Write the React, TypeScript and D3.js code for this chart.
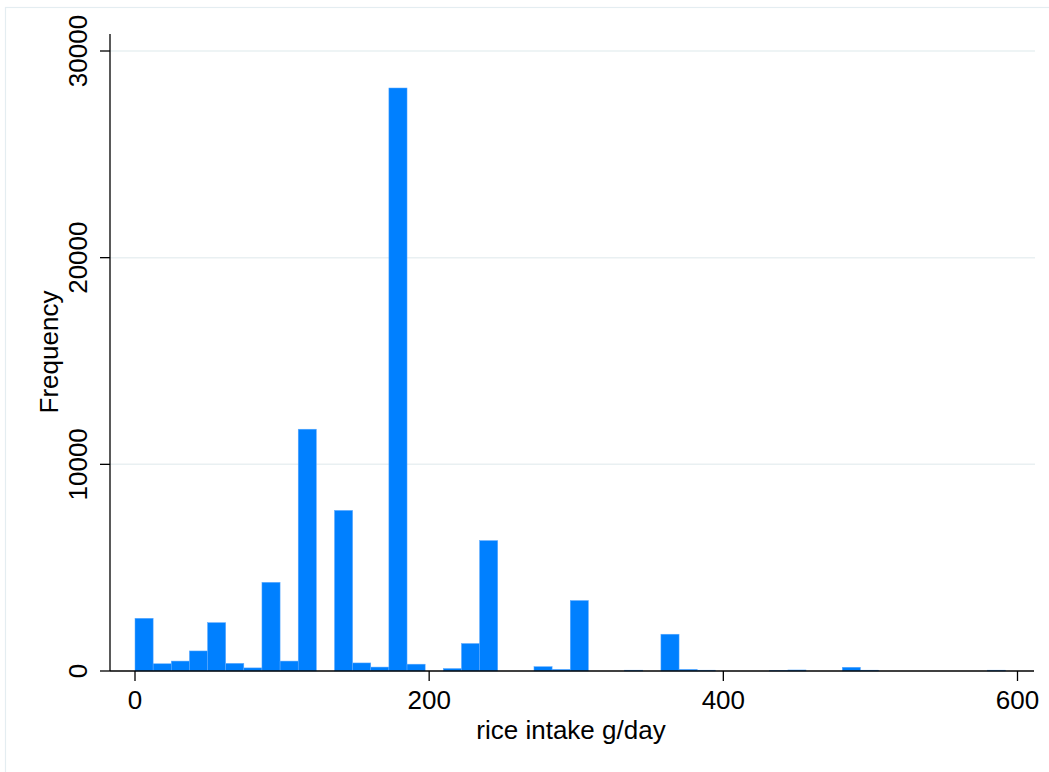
import React, { useEffect, useRef } from "react";
import * as d3 from "d3";

// histogram of rice intake (g/day), 48 bins starting at 0
const binStart = 0;
const binWidth = 12.33;
const counts = [
  2550, 350, 480, 970, 2340, 370, 150, 4290, 480, 11700,
  0, 7770, 390, 190, 28210, 330, 0, 120, 1330, 6310,
  0, 0, 210, 80, 3410, 0, 0, 40, 0, 1780,
  80, 40, 0, 0, 0, 30, 50, 0, 0, 180,
  40, 0, 0, 0, 0, 0, 0, 40,
];
const xTicks = [0, 200, 400, 600];
const yTicks = [0, 10000, 20000, 30000];
const xTitle = "rice intake g/day";
const yTitle = "Frequency";

const W = 1049;
const H = 772;
const FONT = "'Liberation Sans', Arial, Helvetica, sans-serif";

const App = () => {
  const chartRef = useRef<SVGSVGElement>(null);

  useEffect(() => {
    const svg = d3.select(chartRef.current);
    svg.selectAll("*").remove();

    const axisX = 110; // left edge of plot region
    const axisY = 671;
    const plotRight = 1035;

    const x = d3.scaleLinear().domain([0, 600]).range([135, 1017.5]);
    const y = d3.scaleLinear().domain([0, 30000]).range([axisY, 51]);

    // outer frame
    svg.append("rect")
      .attr("x", 5.5).attr("y", 7.5)
      .attr("width", W + 10).attr("height", H + 10)
      .attr("fill", "white")
      .attr("stroke", "#e4edf1")
      .attr("stroke-width", 1.2);

    // gridlines
    svg.selectAll(".grid")
      .data(yTicks.filter(d => d > 0))
      .enter().append("line")
      .attr("x1", axisX).attr("x2", plotRight)
      .attr("y1", d => y(d)).attr("y2", d => y(d))
      .attr("stroke", "#e9f0f2")
      .attr("stroke-width", 1.5);

    // bars
    const bins = counts.map((c, i) => ({
      x0: binStart + i * binWidth,
      x1: binStart + (i + 1) * binWidth,
      count: c,
    }));
    svg.selectAll(".bar")
      .data(bins.filter(b => b.count > 0))
      .enter().append("rect")
      .attr("x", d => x(d.x0))
      .attr("width", d => x(d.x1) - x(d.x0))
      .attr("y", d => y(d.count))
      .attr("height", d => axisY - y(d.count))
      .attr("fill", "#0080ff")
      .attr("stroke", "#5eaaff")
      .attr("stroke-width", 0.5);

    // y axis
    svg.append("line")
      .attr("x1", axisX).attr("x2", axisX)
      .attr("y1", 34).attr("y2", axisY)
      .attr("stroke", "black").attr("stroke-width", 1.3);
    svg.selectAll(".ytick")
      .data(yTicks)
      .enter().append("line")
      .attr("x1", axisX - 10).attr("x2", axisX)
      .attr("y1", d => y(d)).attr("y2", d => y(d))
      .attr("stroke", "black").attr("stroke-width", 1.3);
    svg.selectAll(".ylab")
      .data(yTicks)
      .enter().append("text")
      .attr("transform", d => `translate(78, ${y(d)}) rotate(-90)`)
      .attr("text-anchor", "middle")
      .attr("dominant-baseline", "central")
      .attr("font-family", FONT)
      .attr("font-size", 26)
      .text(d => d);

    // x axis
    svg.append("line")
      .attr("x1", axisX).attr("x2", 1034)
      .attr("y1", axisY).attr("y2", axisY)
      .attr("stroke", "black").attr("stroke-width", 1.3);
    svg.selectAll(".xtick")
      .data(xTicks)
      .enter().append("line")
      .attr("x1", d => x(d)).attr("x2", d => x(d))
      .attr("y1", axisY).attr("y2", axisY + 10)
      .attr("stroke", "black").attr("stroke-width", 1.3);
    svg.selectAll(".xlab")
      .data(xTicks)
      .enter().append("text")
      .attr("x", d => x(d))
      .attr("y", 708.5)
      .attr("text-anchor", "middle")
      .attr("font-family", FONT)
      .attr("font-size", 26)
      .text(d => d);

    // titles
    svg.append("text")
      .attr("x", 571).attr("y", 739)
      .attr("text-anchor", "middle")
      .attr("font-family", FONT)
      .attr("font-size", 26)
      .text(xTitle);
    svg.append("text")
      .attr("transform", `translate(58, 352) rotate(-90)`)
      .attr("text-anchor", "middle")
      .attr("font-family", FONT)
      .attr("font-size", 26)
      .text(yTitle);
  }, []);

  return (
    <div style={{ position: "fixed", left: 0, top: 0 }}>
      <svg ref={chartRef} width={W} height={H} style={{ display: "block" }} />
    </div>
  );
};

export default App;
